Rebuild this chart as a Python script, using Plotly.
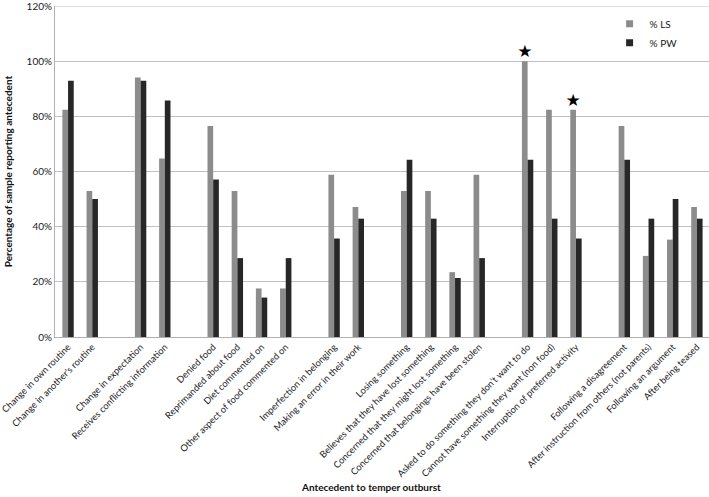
import plotly.graph_objects as go

groups = [
    ["Change in own routine", "Change in another's routine"],
    ["Change in expectation", "Receives conflicting information"],
    ["Denied food", "Reprimanded about food", "Diet commented on", "Other aspect of food commented on"],
    ["Imperfection in belonging", "Making an error in their work"],
    ["Losing something", "Believes that they have lost something",
     "Concerned that they might lost something", "Concerned that belongings have been stolen"],
    ["Asked to do something they don\u2019t want to do", "Cannot have something they want (non food)",
     "Interruption of preferred activity"],
    ["Following a disagreement", "After instruction from others (not parents)",
     "Following an argument", "After being teased"],
]

ls_values = [82.4, 52.9, 94.1, 64.7, 76.5, 52.9, 17.6, 17.6, 58.8, 47.1,
             52.9, 52.9, 23.5, 58.8, 100.0, 82.4, 82.4, 76.5, 29.4, 35.3, 47.1]
pw_values = [92.9, 50.0, 92.9, 85.7, 57.1, 28.6, 14.3, 28.6, 35.7, 42.9,
             64.3, 42.9, 21.4, 28.6, 64.3, 42.9, 35.7, 64.3, 42.9, 50.0, 42.9]
significant = [False] * 14 + [True, False, True] + [False] * 4

y_ticks = [0, 20, 40, 60, 80, 100, 120]
y_tick_labels = ["0%", "20%", "40%", "60%", "80%", "100%", "120%"]

LS_COLOR = "#8c8c8c"
PW_COLOR = "#272727"
GRID = "#c0c0c0"

# positions: one empty slot between groups
categories, positions = [], []
pos = 0
for g in groups:
    for c in g:
        categories.append(c)
        positions.append(pos)
        pos += 1
    pos += 1

FONT = "Lato"
fig = go.Figure()
fig.add_trace(go.Bar(
    x=positions, y=ls_values, name="% LS", marker=dict(color=LS_COLOR, line_width=0),
    text=["\u2605" if s else "" for s in significant], textposition="outside",
    constraintext="none", textfont=dict(size=17, color="#000000", family="DejaVu Sans"),
    cliponaxis=False, showlegend=False,
))
fig.add_trace(go.Bar(
    x=positions, y=pw_values, name="% PW", marker=dict(color=PW_COLOR, line_width=0),
    showlegend=False,
))
# legend entries with small square swatches
fig.add_trace(go.Scatter(x=[None], y=[None], mode="markers", name="% LS",
                         marker=dict(symbol="square", size=7, color=LS_COLOR)))
fig.add_trace(go.Scatter(x=[None], y=[None], mode="markers", name="% PW",
                         marker=dict(symbol="square", size=7, color=PW_COLOR)))

fig.update_layout(
    width=709, height=497,
    margin=dict(l=55, r=0, t=6, b=160),
    paper_bgcolor="white", plot_bgcolor="white",
    barmode="group", bargap=0.53, bargroupgap=0,
    font=dict(family=FONT, size=10, color="#1a1a1a"),
    showlegend=True,
    legend=dict(x=0.848, y=0.99, xanchor="left", yanchor="top",
                font=dict(size=10, color="#1a1a1a"), bgcolor="rgba(0,0,0,0)",
                itemwidth=30, tracegroupgap=0),
    xaxis=dict(
        tickmode="array", tickvals=positions, ticktext=categories,
        tickangle=-45, range=[-0.54, positions[-1] + 0.5], showgrid=False,
        showline=True, linecolor="#b0b0b0", linewidth=1, ticks="",
        tickfont=dict(size=9.3, color="#1a1a1a"), ticklabeloverflow="allow",
        automargin=False,
    ),
    yaxis=dict(
        range=[0, 120], tickvals=y_ticks, ticktext=y_tick_labels,
        showgrid=True, gridcolor=GRID, gridwidth=1,
        showline=True, linecolor="#b0b0b0", linewidth=1, zeroline=False,
        tickfont=dict(size=10, color="#1a1a1a"), ticklabeloverflow="allow",
        title=dict(text="<b>Percentage of sample reporting antecedent</b>",
                   font=dict(size=10, color="#111111"), standoff=12),
        automargin=False,
    ),
    shapes=[dict(type="line", xref="paper", yref="y", x0=0, x1=1, y0=120, y1=120,
                 line=dict(color=GRID, width=1), layer="below")],
    annotations=[dict(
        text="<b>Antecedent to temper outburst</b>", xref="paper", yref="paper",
        x=0.483, y=-0.452, xanchor="center", yanchor="middle", showarrow=False,
        font=dict(size=10, color="#111111"),
    )],
)
fig.write_html("out.html", config={"displayModeBar": False},
               post_script="document.body.style.margin='0';")
